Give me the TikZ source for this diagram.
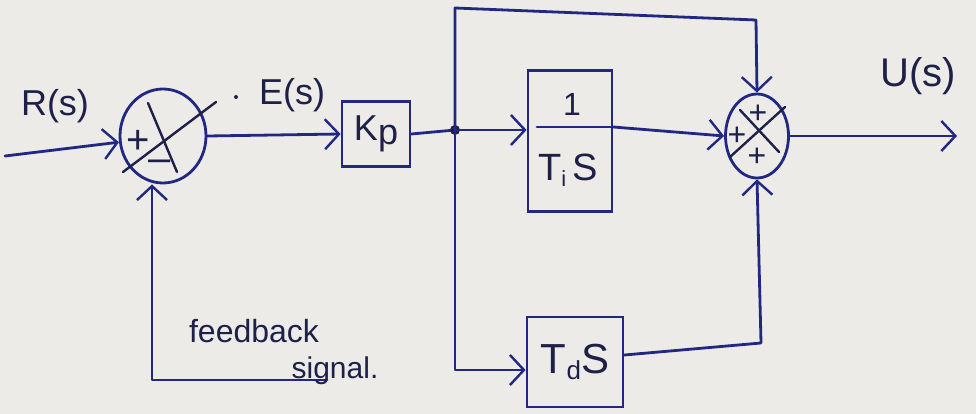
\documentclass[tikz,border=0pt]{standalone}
\usepackage{fontspec}
\setmainfont{Liberation Sans}
\usetikzlibrary{arrows.meta,shapes.geometric}
\definecolor{ink}{RGB}{34,40,130}
\definecolor{pencil}{RGB}{30,32,72}
\definecolor{paper}{RGB}{236,235,232}
\tikzset{
  wire/.style={draw=ink,line width=2.8pt,line cap=round,line join=round},
  arr/.style={wire,-{Straight Barb[length=14pt,width=30pt,line width=2.4pt]}},
  blockbox/.style={draw=ink,line width=2.8pt,rectangle,inner sep=0pt},
  sumjunction/.style={draw=ink,line width=2.8pt,ellipse,inner sep=0pt},
  cross/.style={draw=pencil,line width=2.4pt,line cap=round},
  sign/.style={text=pencil,font=\fontsize{40}{40}\selectfont,inner sep=0pt},
  lbl/.style={text=pencil,inner sep=0pt},
}
\begin{document}
\begin{tikzpicture}[x=1pt,y=-1pt]
\fill[paper] (0,0) rectangle (976,414);
\useasboundingbox (0,0) rectangle (976,414);

% summing junctions
\node[sumjunction,minimum width=86pt,minimum height=94pt] (c1) at (163,136) {};
\node[sumjunction,minimum width=63pt,minimum height=84pt] (c2) at (757,136) {};

% blocks
\node[blockbox,minimum width=68pt,minimum height=65pt] (kp) at (376,134) {};
\node[blockbox,minimum width=84pt,minimum height=141pt] (ti) at (570,141) {};
\node[blockbox,minimum width=96pt,minimum height=90pt] (td) at (575,362) {};

% block contents
\node[lbl,font=\fontsize{36}{36}\selectfont] (kptext) at (kp) {K\raisebox{-0.2ex}{p}};
\node[lbl,font=\fontsize{32}{32}\selectfont] (tinum) at (572,104) {1};
\node[lbl,font=\fontsize{38}{38}\selectfont] (tiden) at (568,170) {T\raisebox{-0.3ex}{\fontsize{22}{22}\selectfont i}\,S};
\coordinate (fracl) at (537,127);
\draw[wire] (fracl) -- (ti.east |- fracl);
\node[lbl,font=\fontsize{42}{42}\selectfont] (tdtext) at (td) {T\raisebox{-0.3ex}{\fontsize{26}{26}\selectfont d}S};

% crosses and signs inside the junctions
\coordinate (x1a) at (123,172); \coordinate (x1b) at (216,102);
\coordinate (x1c) at (148,103); \coordinate (x1d) at (177,172);
\draw[cross] (x1a) -- (x1b);
\draw[cross] (x1c) -- (x1d);
\node[sign] (p1) at (138,142) {+};
\node[sign] (m1) at (160,166) {--};

\coordinate (x2a) at (740,110); \coordinate (x2b) at (779,152);
\coordinate (x2c) at (785,107); \coordinate (x2d) at (730,157);
\draw[cross] (x2a) -- (x2b);
\draw[cross] (x2c) -- (x2d);
\node[sign,font=\fontsize{32}{32}\selectfont] (p2t) at (758,114) {+};
\node[sign,font=\fontsize{32}{32}\selectfont] (p2l) at (737,136) {+};
\node[sign,font=\fontsize{32}{32}\selectfont] (p2b) at (757,157) {+};

% signal path
\coordinate (in) at (5,156);
\draw[arr] (in) -- (c1.188);
\draw[arr] (c1.east) -- (kp.west);
\coordinate (j) at (455,130);
\draw[wire] (kp.east) -- (j);
\fill[pencil] (j) circle (5pt);
\draw[arr] (j) -- (ti.west |- j);

% proportional branch along the top
\coordinate (tl) at (455,8);
\coordinate (tr) at (756,20);
\draw[arr] (j) -- (tl) -- (tr) -- (c2.north);

% derivative branch along the bottom
\coordinate (bl) at (455,370);
\draw[arr] (j) -- (bl) -- (td.west |- bl);
\coordinate (br) at (761,343);
\draw[arr] (td.east |- 0,355) -- (br) -- (c2.south);

% integral branch into the second junction
\draw[arr] (ti.east |- fracl) -- (c2.west);

% output
\coordinate (out) at (957,136);
\draw[arr] (c2.east) -- (out);

% feedback path
\coordinate (fbr) at (327,380);
\coordinate (fbl) at (152,380);
\draw[arr] (fbr) -- (fbl) -- (c1.south -| fbl);

% labels
\node[lbl,font=\fontsize{36}{36}\selectfont] (rlab) at (55,106) {R(s)};
\node[lbl,font=\fontsize{36}{36}\selectfont] (elab) at (292,95) {E(s)};
\fill[pencil] (236,97) circle (2pt);
\node[lbl,font=\fontsize{40}{40}\selectfont] (ulab) at (918,76) {U(s)};
\node[lbl,font=\fontsize{32}{32}\selectfont] (fblab) at (254,331) {feedback};
\node[lbl,font=\fontsize{30}{30}\selectfont] (sglab) at (335,371) {signal.};
\end{tikzpicture}
\end{document}
